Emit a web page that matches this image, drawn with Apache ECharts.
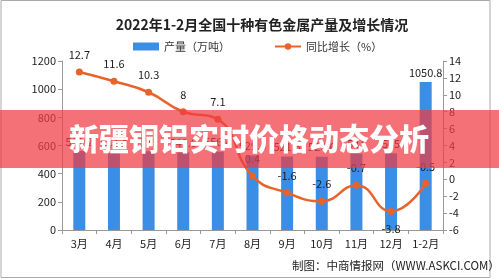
<!DOCTYPE html>
<html>
<head>
<meta charset="utf-8">
<script src="https://cdn.jsdelivr.net/npm/echarts@6/dist/echarts.min.js"></script>
<style>html,body{margin:0;padding:0;background:#fff;}#c{width:499px;height:279px;}</style>
</head>
<body>
<div id="c"></div>
<script>
const categories = ['3月','4月','5月','6月','7月','8月','9月','10月','11月','12月','1-2月'];
const output = [561.2, 544.8, 559.0, 549.6, 556.4, 529.5, 521.5, 520.6, 541.0, 545.0, 1050.8];
const growth = [12.7, 11.6, 10.3, 8, 7.1, 0.4, -1.6, -2.6, -0.7, -3.8, -0.5];
const leftTicks = [0, 1200, 200];
const rightTicks = [-6, 14, 2];

const chart = echarts.init(document.getElementById('c'));
const fam = '"Noto Sans CJK SC", "DejaVu Sans", sans-serif';
chart.setOption({
  animation: false,
  textStyle: { fontFamily: fam },
  title: {
    text: '2022年1-2月全国十种有色金属产量及增长情况',
    left: 257, top: 13, textAlign: 'center',
    textStyle: { fontSize: 14, fontWeight: 'bold', color: '#222', fontFamily: fam }
  },
  legend: {
    top: 36, left: 128, itemGap: 44, itemWidth: 26, itemHeight: 8,
    textStyle: { fontSize: 11, color: '#333', fontFamily: fam },
    data: [
      { name: '产量（万吨）', icon: 'rect' },
      { name: '同比增长（%）' }
    ]
  },
  grid: { left: 62, right: 56, top: 61, bottom: 49 },
  xAxis: {
    type: 'category', data: categories,
    axisLine: { lineStyle: { color: '#999' } },
    axisTick: { show: true, alignWithLabel: false, interval: 0, lineStyle: { color: '#999' }, length: 4 },
    axisLabel: { color: '#222', fontSize: 11, margin: 8, interval: 0 }
  },
  yAxis: [
    {
      type: 'value', min: leftTicks[0], max: leftTicks[1], interval: leftTicks[2],
      splitLine: { show: false },
      axisLine: { show: true, lineStyle: { color: '#999' } },
      axisTick: { show: true, lineStyle: { color: '#999' }, length: 4 },
      axisLabel: { color: '#222', fontSize: 11, margin: 6, formatter: v => String(v) }
    },
    {
      type: 'value', min: rightTicks[0], max: rightTicks[1], interval: rightTicks[2],
      splitLine: { show: false },
      axisLine: { show: true, lineStyle: { color: '#999' } },
      axisTick: { show: true, lineStyle: { color: '#999' }, length: 4 },
      axisLabel: { color: '#222', fontSize: 11, margin: 6, formatter: v => String(v) }
    }
  ],
  series: [
    {
      name: '产量（万吨）', type: 'bar', data: output, barWidth: 12,
      itemStyle: { color: '#3b8ee5' },
      label: { show: true, position: 'top', color: '#222', fontSize: 11, distance: 4 }
    },
    {
      name: '同比增长（%）', type: 'line', yAxisIndex: 1, data: growth.map((v, i) => ({
        value: v,
        label: i === 9 ? { position: 'bottom' } : {}
      })),
      smooth: true, symbol: 'circle', symbolSize: 7,
      lineStyle: { color: '#e8632b', width: 2.5 },
      itemStyle: { color: '#e8632b' },
      label: { show: true, position: 'top', color: '#222', fontSize: 11, distance: 8 }
    }
  ],
  graphic: [
    { type: 'rect', shape: { x: 1, y: 0.5, width: 489, height: 277 }, style: { fill: 'none', stroke: '#aaa', lineWidth: 1 }, z: -1 },
    {
      type: 'text', left: 292, top: 260, z: 10,
      style: { text: '制图：中商情报网（WWW.ASKCI.COM）', fill: '#222', font: '11.5px "Noto Sans CJK SC", sans-serif' }
    },
    { type: 'rect', shape: { x: 0, y: 110, width: 499, height: 58 }, style: { fill: 'rgba(240,60,66,0.72)' }, z: 100 },
    {
      type: 'text', x: 249, y: 139, z: 101,
      style: { text: '新疆铜铝实时价格动态分析', fill: '#fff', align: 'center', verticalAlign: 'middle',
        font: '900 30px "Noto Sans CJK SC", sans-serif' }
    }
  ]
});
</script>
</body>
</html>
